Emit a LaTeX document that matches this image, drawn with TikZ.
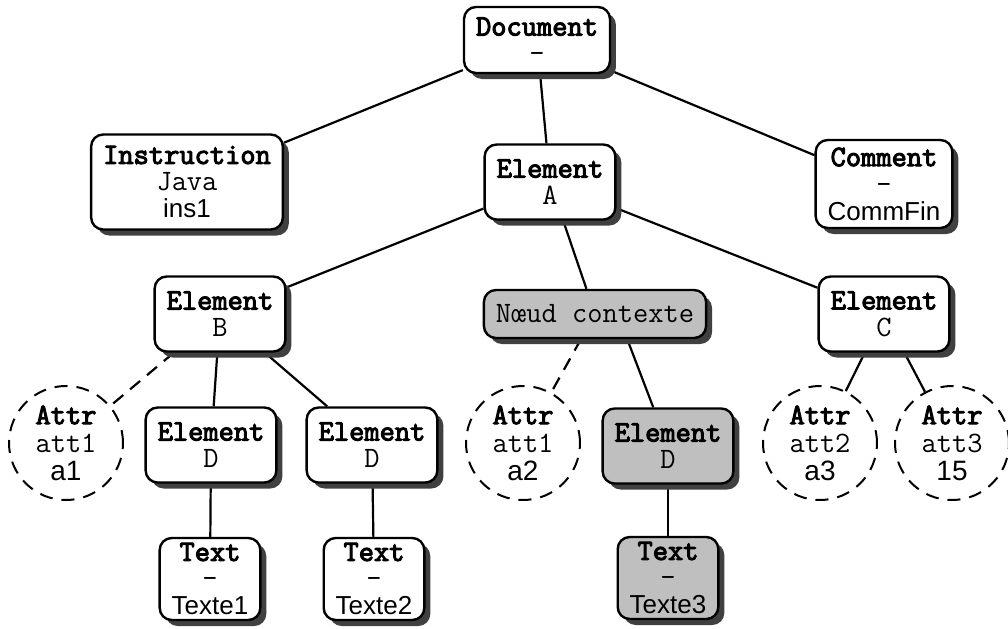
\documentclass[tikz,border=0pt]{standalone}
\usepackage{fontspec}
\setmainfont{Liberation Sans}
\newfontfamily\heavymono[FakeBold=3.5]{Latin Modern Mono}
\usetikzlibrary{shadows, backgrounds}

\newcommand{\typelabel}[1]{{\heavymono\fontsize{14.8}{12.5}\selectfont #1}}
\newcommand{\namelabel}[1]{{\ttfamily\fontsize{14.8}{12.5}\selectfont #1}}

\tikzset{
	box/.style={draw, line width=1.2pt, rounded corners=6pt, fill=white, align=center,
		inner xsep=6pt, inner ysep=0pt, minimum height=37.5pt,
		font=\fontsize{13}{13.5}\selectfont,
		drop shadow={shadow xshift=3pt, shadow yshift=-3pt, fill=black!75, opacity=1}},
	ctxbox/.style={box, fill=black!25},
	attrcircle/.style={draw, circle, line width=1pt, dash pattern=on 6.5pt off 4.5pt,
		minimum size=57pt, inner sep=0pt, align=center,
		font=\fontsize{14}{14}\selectfont},
	link/.style={line width=1.1pt},
	attrlink/.style={line width=1.1pt, dash pattern=on 6.5pt off 4.5pt}
}

\begin{document}
\begin{tikzpicture}[x=0.5pt, y=-0.5pt]
	\useasboundingbox (0,0) rectangle (1008,628);
	
	% top levels
	\node [box, minimum height=33pt] (doc) at (537,40) {\typelabel{Document}\\\namelabel{-}};
	\node [box, minimum height=47.5pt] (instr) at (187,182) {\typelabel{Instruction}\\\namelabel{Java}\\ins1};
	\node [box] (elA) at (550,182) {\typelabel{Element}\\\namelabel{A}};
	\node [box, minimum height=44pt] (comm) at (884,184) {\typelabel{Comment}\\\namelabel{-}\\CommFin};
	
	\node [box] (elB) at (220,314) {\typelabel{Element}\\\namelabel{B}};
	\node [ctxbox, minimum height=24pt] (ctx) at (595,314) {\namelabel{N\oe ud contexte}};
	\node [box] (elC) at (884,314) {\typelabel{Element}\\\namelabel{C}};
	
	% attributes and children
	\node [attrcircle] (att1) at (66,443) {\typelabel{Attr}\\\namelabel{att1}\\a1};
	\node [box] (elD1) at (211,445) {\typelabel{Element}\\\namelabel{D}};
	\node [box] (elD2) at (372,445) {\typelabel{Element}\\\namelabel{D}};
	\node [attrcircle] (att2) at (523,443) {\typelabel{Attr}\\\namelabel{att1}\\a2};
	\node [ctxbox] (elD3) at (668,446) {\typelabel{Element}\\\namelabel{D}};
	\node [attrcircle] (att3) at (820,443) {\typelabel{Attr}\\\namelabel{att2}\\a3};
	\node [attrcircle] (att4) at (952,443) {\typelabel{Attr}\\\namelabel{att3}\\15};
	
	% texts
	\node [box, minimum height=41pt] (txt1) at (210,579) {\typelabel{Text}\\\namelabel{-}\\Texte1};
	\node [box, minimum height=41pt] (txt2) at (374,579) {\typelabel{Text}\\\namelabel{-}\\Texte2};
	\node [ctxbox, minimum height=41pt] (txt3) at (668,578) {\typelabel{Text}\\\namelabel{-}\\Texte3};
	
	\begin{scope}[on background layer]
		\draw [link] (doc) -- (instr);
		\draw [link] (doc) -- (elA);
		\draw [link] (doc) -- (comm);
		
		\draw [link] (elA) -- (elB);
		\draw [link] (elA) -- (ctx);
		\draw [link] (elA) -- (elC);
		
		\draw [attrlink] (elB) -- (att1);
		\draw [link] (elB) -- (elD1);
		\draw [link] (elB) -- (elD2);
		
		\draw [attrlink] (ctx) -- (att2);
		\draw [link] (ctx.-38) -- (elD3);
		
		\draw [link] (elC) -- (att3);
		\draw [link] (elC) -- (att4);
		
		\draw [link] (elD1) -- (txt1);
		\draw [link] (elD2) -- (txt2);
		\draw [link] (elD3) -- (txt3);
	\end{scope}
\end{tikzpicture}
\end{document}
